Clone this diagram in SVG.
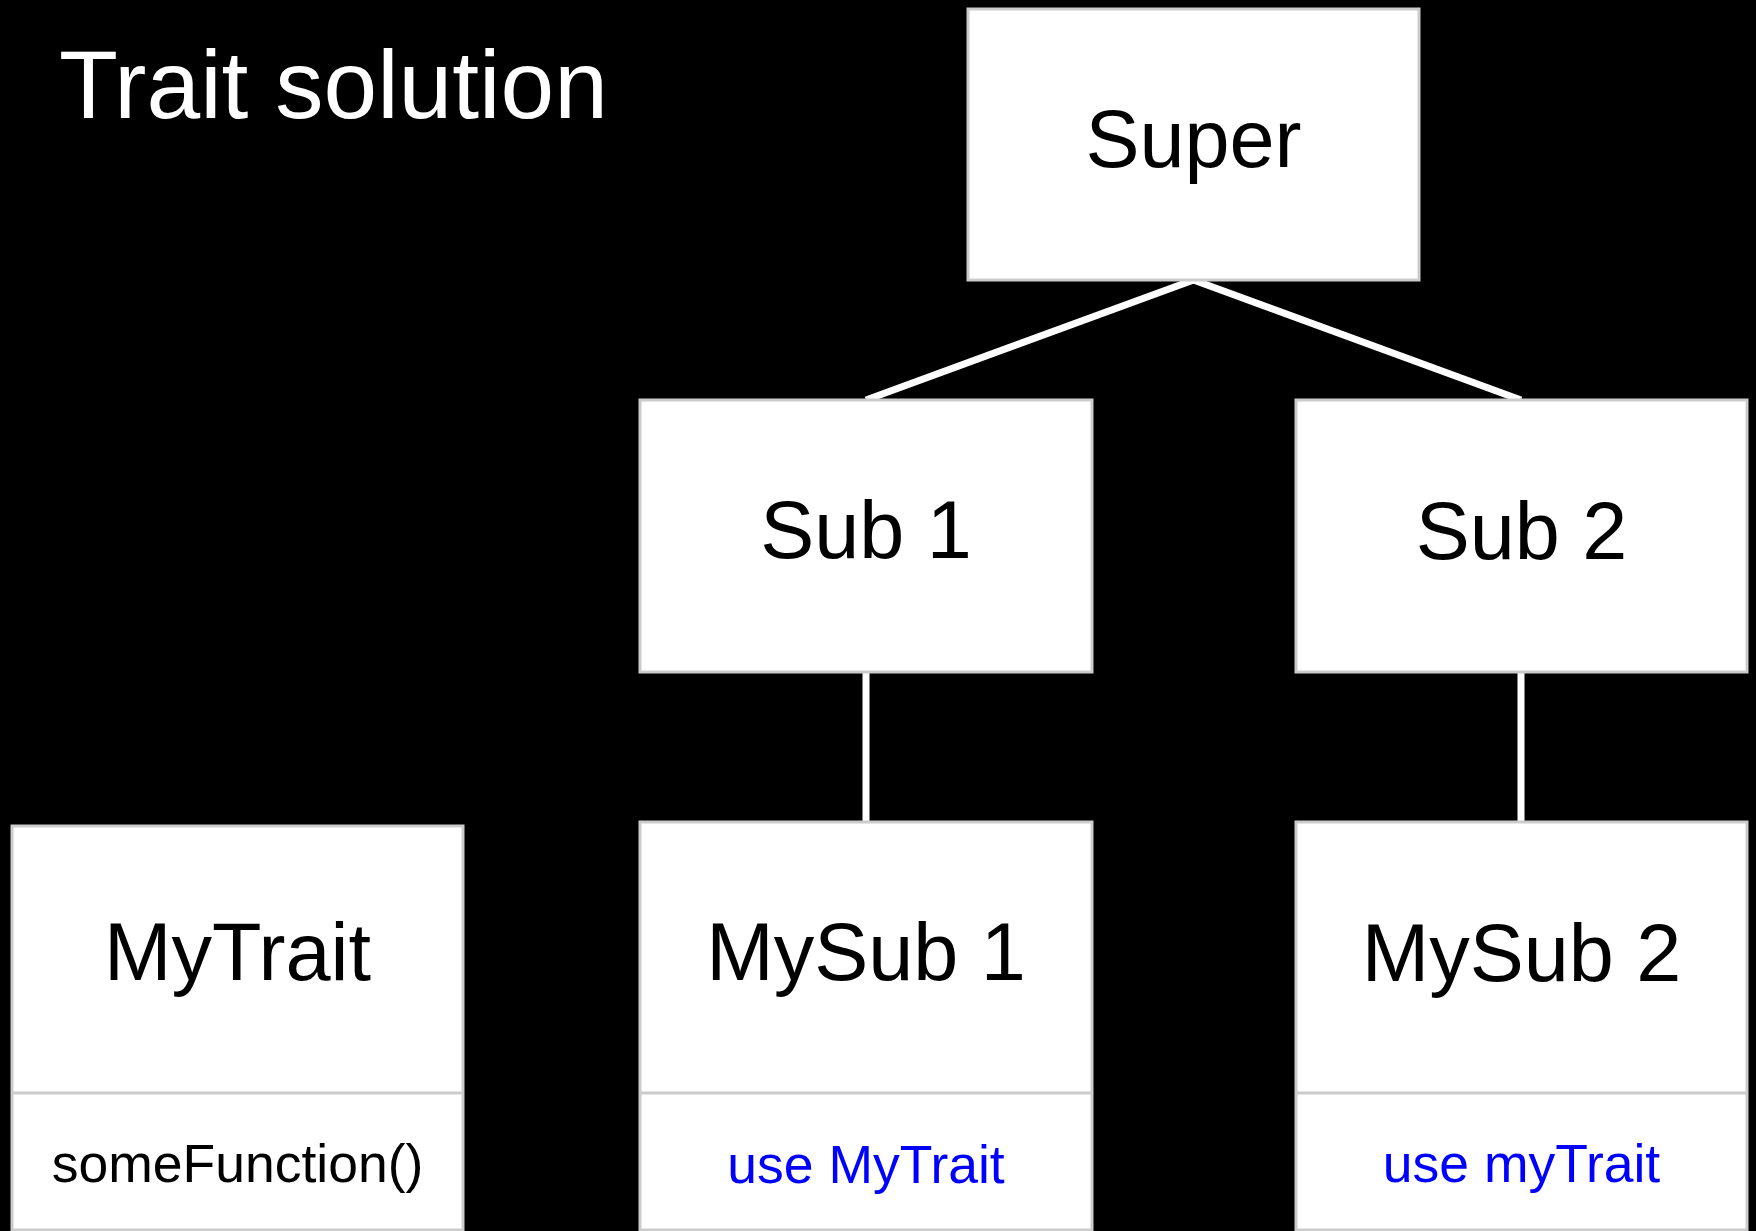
<svg xmlns="http://www.w3.org/2000/svg" width="1756" height="1231" viewBox="0 0 1756 1231">
<style>
.box{fill:#ffffff;stroke:#cccccc;stroke-width:3}
.div{stroke:#cccccc;stroke-width:3}
.conn{stroke:#ffffff;stroke-width:7;fill:none}
text{font-family:"Liberation Sans",Arial,sans-serif;text-anchor:middle}
.big{font-size:81px;fill:#000000}
.small{font-size:53.5px;fill:#000000}
.blue{font-size:53.5px;fill:#0000ff}
.title{font-size:96.5px;fill:#ffffff;text-anchor:start}
</style>
<rect x="0" y="0" width="1756" height="1231" fill="#000000"/>
<text class="title" x="59" y="118">Trait solution</text>
<g id="connectors">
<line class="conn" x1="1193.5" y1="280" x2="866" y2="400"/>
<line class="conn" x1="1193.5" y1="280" x2="1521" y2="400"/>
<line class="conn" x1="866" y1="672" x2="866" y2="822"/>
<line class="conn" x1="1521" y1="672" x2="1521" y2="822"/>
</g>
<g id="super">
<rect class="box" x="968" y="9" width="451" height="271"/>
<text class="big" x="1193.5" y="167">Super</text>
</g>
<g id="sub1">
<rect class="box" x="640" y="400" width="452" height="272"/>
<text class="big" x="866" y="558">Sub 1</text>
</g>
<g id="sub2">
<rect class="box" x="1296" y="400" width="451" height="272"/>
<text class="big" x="1521.5" y="559">Sub 2</text>
</g>
<g id="mytrait">
<rect class="box" x="12" y="826" width="451" height="404"/>
<line class="div" x1="12" y1="1093" x2="463" y2="1093"/>
<text class="big" x="237.5" y="980">MyTrait</text>
<text class="small" x="237.5" y="1182">someFunction()</text>
</g>
<g id="mysub1">
<rect class="box" x="640" y="822" width="452" height="408"/>
<line class="div" x1="640" y1="1093" x2="1092" y2="1093"/>
<text class="big" x="866" y="980">MySub 1</text>
<text class="blue" x="866" y="1183">use MyTrait</text>
</g>
<g id="mysub2">
<rect class="box" x="1296" y="822" width="451" height="408"/>
<line class="div" x1="1296" y1="1093" x2="1747" y2="1093"/>
<text class="big" x="1521.5" y="981">MySub 2</text>
<text class="blue" x="1521.5" y="1182">use myTrait</text>
</g>
</svg>
